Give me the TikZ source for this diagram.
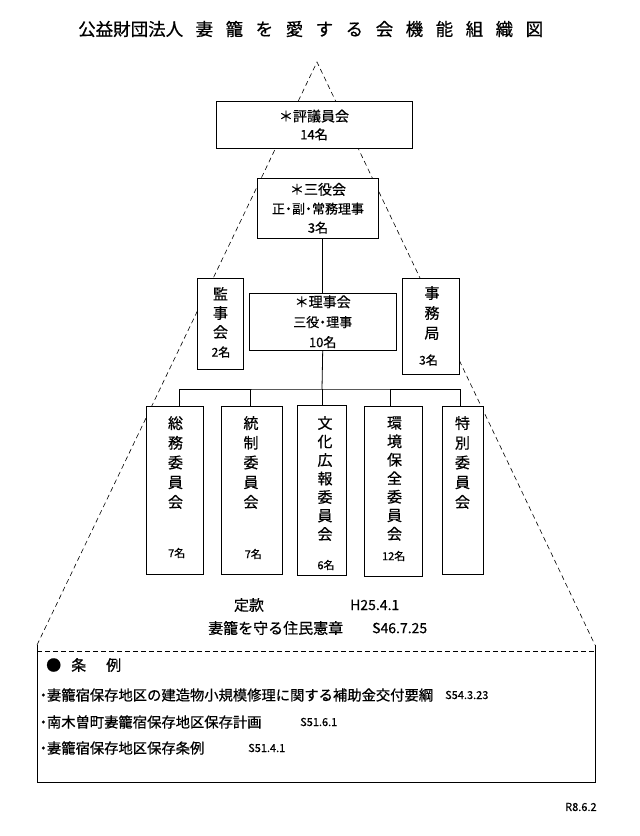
\documentclass[tikz,border=0pt]{standalone}
\usepackage{fontspec}
\setmainfont{Noto Sans CJK JP}[FakeBold=0.6]
\usetikzlibrary{calc}
\newcommand\tgap{\hspace{12.5pt}}
\tikzset{box/.style={draw,fill=white,line width=.8pt,inner sep=0pt,align=center},
         vcol/.style={align=center,inner sep=0pt,font=\fontsize{15}{#1}\selectfont},
         vcol/.default=19.7,
         num/.style={inner sep=0pt,font=\fontsize{11}{13}\selectfont},
         tri/.style={dash pattern=on 5pt off 3.5pt,line width=.6pt},
         link/.style={line width=.8pt}}

\begin{document}
\begin{tikzpicture}[x=1pt,y=-1pt]
  \useasboundingbox (0,0) rectangle (640,836);
  \node[anchor=west,inner sep=0pt,font=\fontsize{17.5}{20}\selectfont] (title) at (78,29)
    {公益財団法人\tgap 妻\tgap 籠\tgap を\tgap 愛\tgap す\tgap る\tgap 会\tgap 機\tgap 能\tgap 組\tgap 織\tgap 図};
  % dashed triangle + bottom frame
  \coordinate (apex) at (317,62);
  \coordinate (bl) at (37,645);
  \coordinate (br) at (595,645);
  \draw[tri] (bl) -- (apex) -- (br);
  \draw[link] (bl) -- (37,782) -- (595,782) -- (br);
  \draw[dash pattern=on 5pt off 3pt,line width=.8pt] (37,651) -- (595,651);

  \node[box,minimum width=196pt,minimum height=47pt,font=\fontsize{13}{18}\selectfont] (hyougi) at (314,125)
    {{\fontsize{14}{18}\selectfont ＊評議員会}\\14名};
  \node[box,minimum width=121pt,minimum height=60pt,font=\fontsize{13}{19}\selectfont] (sanyaku) at (318,208.3)
    {{\fontsize{14}{19}\selectfont ＊三役会}\\正\kern-3pt・\kern-3pt副\kern-3pt・\kern-3pt常務理事\\3名};
  \node[box,minimum width=147pt,minimum height=57pt,font=\fontsize{13}{20}\selectfont] (riji) at (322.7,321.7)
    {{\fontsize{14}{20}\selectfont ＊理事会}\\三役\kern-3pt・\kern-3pt理事\\10名};
  \node[box,minimum width=46pt,minimum height=91pt] (kanji) at (220.3,323.8) {};
  \node[vcol=19] at (220.5,313) {監\\事\\会};
  \node[num,font=\fontsize{12}{14}\selectfont] at (221,352) {2名};
  \node[box,minimum width=57pt,minimum height=96pt] (jimu) at (431.3,326) {};
  \node[vcol=20] at (432,313) {事\\務\\局};
  \node[num,font=\fontsize{12}{14}\selectfont] at (428.5,360) {3名};

  % committees
  \node[box,minimum width=57pt,minimum height=168pt] (somu) at (175.3,490) {};
  \node[vcol] at (175.5,462.5) {総\\務\\委\\員\\会};
  \node[num] at (176.7,553) {7名};
  \node[box,minimum width=61pt,minimum height=168pt] (tousei) at (252.2,490) {};
  \node[vcol] at (251,462.5) {統\\制\\委\\員\\会};
  \node[num] at (253.3,554) {7名};
  \node[box,minimum width=49pt,minimum height=170pt] (bunka) at (322,490) {};
  \node[vcol=18.5] at (325,478.5) {文\\化\\広\\報\\委\\員\\会};
  \node[num] at (326,565) {6名};
  \node[box,minimum width=58pt,minimum height=170pt] (kankyo) at (393.5,491.3) {};
  \node[vcol=18.5] at (394.5,478.5) {環\\境\\保\\全\\委\\員\\会};
  \node[num] at (393.7,556) {12名};
  \node[box,minimum width=41pt,minimum height=168pt] (tokubetsu) at (463,490) {};
  \node[vcol] at (462.5,462.5) {特\\別\\委\\員\\会};

  % connectors
  \draw[link] (riji.north |- sanyaku.south) -- (riji.north);
  \coordinate (bar) at (322,389);
  \draw[link] (riji.south) -- (bar);
  \draw[link] ([xshift=3.7pt]somu.north) |- (bar) -| ([xshift=-3pt]tokubetsu.north);
  \draw[link] ([xshift=-2pt]tousei.north) -- ([xshift=-2pt]tousei.north |- bar);
  \draw[link] (bunka.north) -- (bunka.north |- bar);
  \draw[link] ([xshift=-3.5pt]kankyo.north) -- ([xshift=-3.5pt]kankyo.north |- bar);

  % statutes
  \node[inner sep=0pt,font=\fontsize{15}{18}\selectfont] (teikan) at (249,605) {定款};
  \node[anchor=west,inner sep=0pt,font=\fontsize{14}{18}\selectfont] at (350,605) {H25.4.1};
  \node[anchor=west,inner sep=0pt,font=\fontsize{15}{18}\selectfont] (kensho) at (208,628) {妻籠を守る住民憲章};
  \node[anchor=west,inner sep=0pt,font=\fontsize{14}{18}\selectfont] at (372,628) {S46.7.25};

  % ordinances
  \node[anchor=west,inner sep=0pt,font=\fontsize{15}{18}\selectfont] (jorei) at (46,665) {●\hspace{10pt}条\hspace{20pt}例};
  \node[anchor=west,inner sep=0pt,font=\fontsize{14.3}{18}\selectfont] (rei1) at (37,695) {\kern-1pt・\kern-3.5pt妻籠宿保存地区の建造物小規模修理に関する補助金交付要綱};
  \node[anchor=west,num] at (445,695) {S54.3.23};
  \node[anchor=west,inner sep=0pt,font=\fontsize{14.3}{18}\selectfont] (rei2) at (37,722) {\kern-1pt・\kern-3.5pt南木曽町妻籠宿保存地区保存計画};
  \node[anchor=west,num] at (300,722) {S51.6.1};
  \node[anchor=west,inner sep=0pt,font=\fontsize{14.3}{18}\selectfont] (rei3) at (37,748) {\kern-1pt・\kern-3.5pt妻籠宿保存地区保存条例};
  \node[anchor=west,num] at (248,748) {S51.4.1};

  \node[anchor=west,num] (date) at (565,807) {R8.6.2};
\end{tikzpicture}
\end{document}
